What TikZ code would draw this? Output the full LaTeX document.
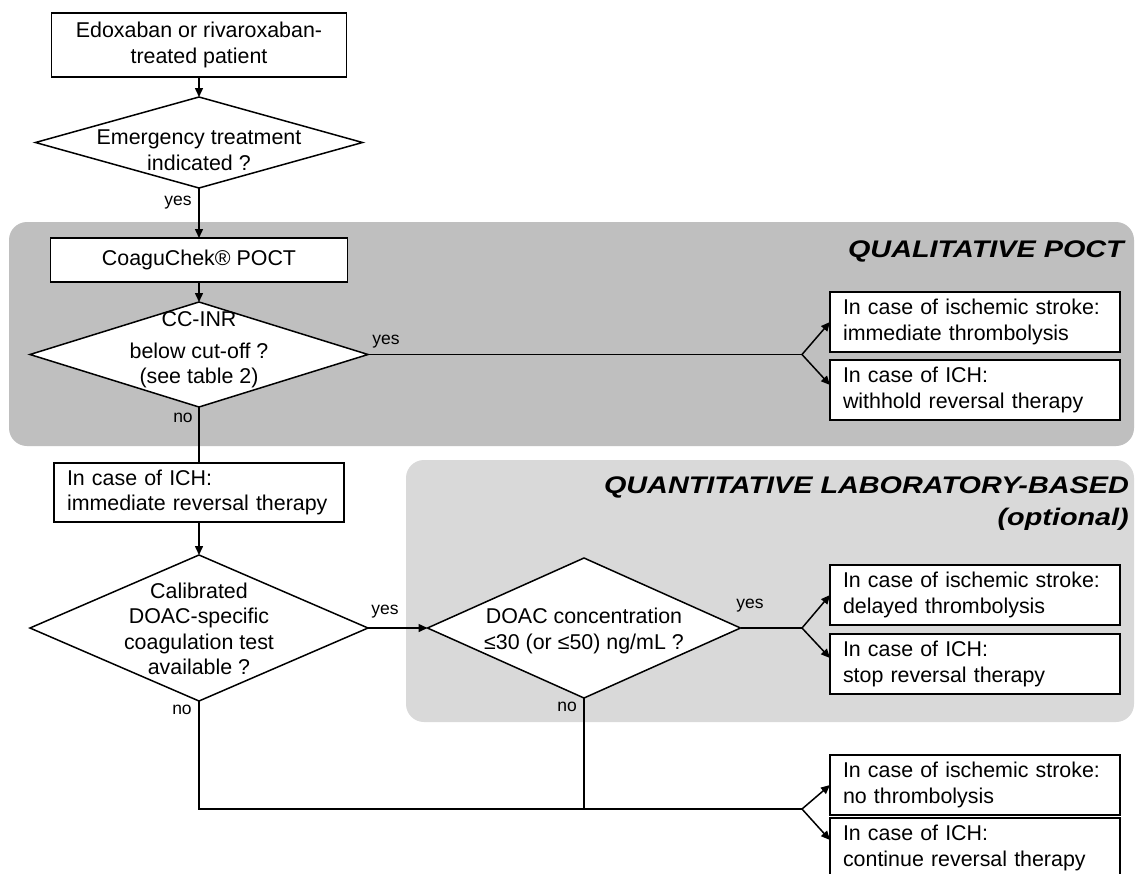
\documentclass[tikz,border=0pt]{standalone}
\usepackage{fontspec}
\setmainfont{Liberation Sans}
\newfontfamily\titlefont[FakeStretch=1.2]{Liberation Sans}
\usetikzlibrary{arrows.meta,shapes.geometric}
\definecolor{darkbg}{RGB}{191,191,191}
\definecolor{lightbg}{RGB}{217,217,217}
\begin{document}
\begin{tikzpicture}[x=1pt,y=-1pt,
 every node/.style={font=\fontsize{21.4}{25.5}\selectfont},
 box/.style={draw,fill=white,line width=1.5pt,rectangle,inner sep=0pt,outer sep=0pt,align=center},
 rbox/.style={draw,fill=white,line width=1.5pt,rectangle,inner xsep=13pt,inner ysep=0pt,text width=264pt,minimum height=60pt,align=left,outer sep=0pt},
 dia/.style={draw,fill=white,line width=1.5pt,diamond,inner sep=0pt,outer sep=0pt},
 txt/.style={align=center,inner sep=0pt},
 lab/.style={font=\fontsize{17.5}{20}\selectfont,inner sep=0pt},
 ttl/.style={font=\titlefont\bfseries\itshape\fontsize{24}{32}\selectfont,align=right,inner sep=0pt,anchor=east},
 conn/.style={line width=1.5pt},
 arr/.style={conn,-{Triangle[length=9pt,width=8pt]}}]
\useasboundingbox (0,0) rectangle (1135,873);
\fill[white] (0,0) rectangle (1135,873);
% background regions
\fill[darkbg, rounded corners=18pt] (9,222) rectangle (1134,446);
\fill[lightbg, rounded corners=18pt] (406,460) rectangle (1134,722);
\node[ttl] (t1) at (1124,251) {QUALITATIVE POCT};
\node[ttl] (t2) at (1129,504) {QUANTITATIVE LABORATORY-BASED\\(optional)};
% main column
\node[box, minimum width=295pt, minimum height=64pt] (start) at (199,45) {Edoxaban or rivaroxaban-\\treated patient};
\node[dia, minimum width=327pt, minimum height=91pt] (d1) at (199,142.5) {};
\node[txt] (d1t) at (199,150) {Emergency treatment\\indicated ?};
\node[box, minimum width=297pt, minimum height=44pt] (poct) at (199,260) {CoaguChek® POCT};
\node[dia, minimum width=338pt, minimum height=105pt] (d2) at (199,354.5) {};
\node[txt] (d2t) at (199,350) {CC-INR\\[6pt]below cut-off ?\\(see table 2)};
\node[rbox, minimum height=59pt] (ich1) at (199,492.5) {In case of ICH:\\immediate reversal therapy};
\node[dia, minimum width=338pt, minimum height=146pt] (d3) at (199,628) {};
\node[txt] (d3t) at (199,629) {Calibrated\\DOAC-specific\\coagulation test\\available ?};
\node[dia, minimum width=313pt, minimum height=140pt] (d4) at (584,628) {};
\node[txt] (d4t) at (584,631) {DOAC concentration\\≤30 (or ≤50) ng/mL ?};
% outcome boxes
\node[rbox] (r1) at (975,322) {In case of ischemic stroke:\\immediate thrombolysis};
\node[rbox] (r2) at (975,390) {In case of ICH:\\withhold reversal therapy};
\node[rbox] (r3) at (975,595) {In case of ischemic stroke:\\delayed thrombolysis};
\node[rbox] (r4) at (975,664) {In case of ICH:\\stop reversal therapy};
\node[rbox] (r5) at (975,785) {In case of ischemic stroke:\\no thrombolysis};
\node[rbox] (r6) at (975,848) {In case of ICH:\\continue reversal therapy};
% branch points
\coordinate (b1) at (802,354.5);
\coordinate (b2) at (802,628);
\coordinate (b3) at (802,809);
\coordinate (c1) at (199,809);
\coordinate (c2) at (584,809);
% connectors
\draw[arr] (start.south) -- (d1.north);
\draw[arr] (d1.south) -- (poct.north);
\draw[arr] (poct.south) -- (d2.north);
\draw[conn] (d2.south) -- (ich1.north);
\draw[arr] (ich1.south) -- (d3.north);
\draw[arr] (d3.east) -- (d4.west);
\draw[conn] (d2.east) -- (b1);
\draw[arr] (b1) -- (r1.west);
\draw[arr] (b1) -- ([yshift=5pt]r2.west);
\draw[conn] (d4.east) -- (b2);
\draw[arr] (b2) -- (r3.west);
\draw[arr] (b2) -- ([yshift=6pt]r4.west);
\draw[conn] (d3.south) -- (c1) -- (b3);
\draw[conn] (d4.south) -- (c2);
\draw[arr] (b3) -- (r5.west);
\draw[arr] (b3) -- ([yshift=8pt]r6.west);
% labels
\node[lab] (y1) at (178,203) {yes};
\node[lab] (y2) at (386,342) {yes};
\node[lab] (n1) at (183,418) {no};
\node[lab] (y3) at (385,612) {yes};
\node[lab] (n2) at (182,710) {no};
\node[lab] (y4) at (750,606) {yes};
\node[lab] (n3) at (567,707) {no};
\end{tikzpicture}
\end{document}
